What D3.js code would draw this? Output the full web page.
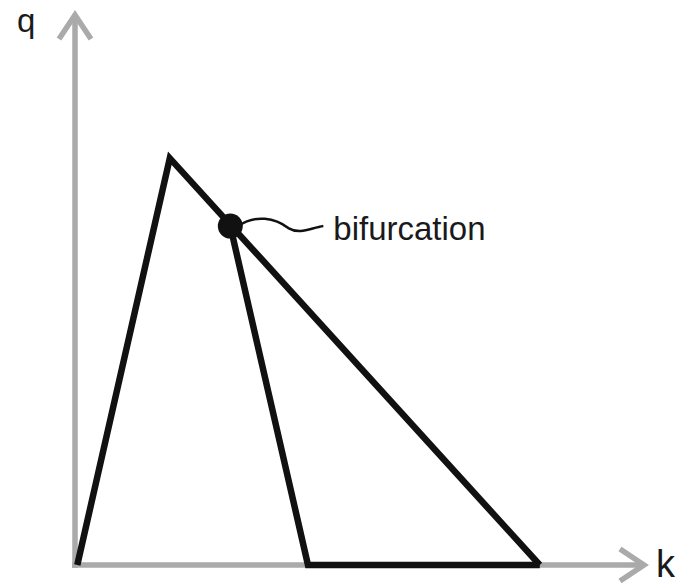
<!DOCTYPE html>
<html>
<head>
<meta charset="utf-8">
<script src="https://cdn.jsdelivr.net/npm/d3@7"></script>
<style>
  body { margin: 0; background: #fff; }
  text { font-family: "Liberation Sans", Arial, sans-serif; fill: #1a1a1a; }
</style>
</head>
<body>
<div id="chart"></div>
<script>
// outer envelope: rises from origin to the peak, then falls to zero
var envelope = [
  {k: 0.4, q: 0},
  {k: 16.6, q: 73.7},
  {k: 81.4, q: 0}
];

// branch that splits off at the bifurcation
var branch = [
  {k: 27.2, q: 61.4},
  {k: 40.8, q: 0},
  {k: 81.4, q: 0}
];

var bifurcation = {k: 27.2, q: 61.4, label: "bifurcation"};
var axisLabels = {x: "k", y: "q"};

var width = 685, height = 585;

var svg = d3.select("#chart")
  .append("svg")
    .attr("width", width)
    .attr("height", height);

// scales
var x = d3.scaleLinear().domain([0, 100]).range([75, 646]);
var y = d3.scaleLinear().domain([0, 100]).range([565, 13]);

// axes (grey with open arrow heads)
var grey = "#aaaaaa";
svg.append("line")
  .attr("x1", x(0)).attr("y1", y(0) + 3)
  .attr("x2", x(0)).attr("y2", y(100) + 2)
  .attr("stroke", grey).attr("stroke-width", 5.5);
svg.append("line")
  .attr("x1", x(0) - 3).attr("y1", y(0))
  .attr("x2", x(100) - 2).attr("y2", y(0))
  .attr("stroke", grey).attr("stroke-width", 5.5);

// arrow heads
svg.append("path")
  .attr("d", "M" + (x(0) - 16) + "," + (y(100) + 26) + " L" + x(0) + "," + (y(100) + 2) + " L" + (x(0) + 16) + "," + (y(100) + 26))
  .attr("fill", "none").attr("stroke", grey).attr("stroke-width", 5.5);
svg.append("path")
  .attr("d", "M" + (x(100) - 26) + "," + (y(0) - 16) + " L" + (x(100) - 2) + "," + y(0) + " L" + (x(100) - 26) + "," + (y(0) + 16))
  .attr("fill", "none").attr("stroke", grey).attr("stroke-width", 5.5);

svg.append("text")
  .attr("x", 17).attr("y", 32)
  .style("font-size", "33px")
  .text(axisLabels.y);
svg.append("text")
  .attr("x", 656).attr("y", 577)
  .style("font-size", "38px")
  .text(axisLabels.x);

// black lines
var line = d3.line()
  .x(function(d) { return x(d.k); })
  .y(function(d) { return y(d.q); });

svg.append("path")
  .datum(envelope)
  .attr("d", line)
  .attr("fill", "none")
  .attr("stroke", "#111")
  .attr("stroke-width", 6.5)
  .attr("stroke-linejoin", "miter");

svg.append("path")
  .datum(branch)
  .attr("d", line)
  .attr("fill", "none")
  .attr("stroke", "#111")
  .attr("stroke-width", 6.5)
  .attr("stroke-linejoin", "miter");

// bifurcation point and its label
var bx = x(bifurcation.k), by = y(bifurcation.q);

var p = d3.path();
p.moveTo(bx + 8, by);
p.bezierCurveTo(bx + 25, by - 12, bx + 45, by - 8, bx + 58, by + 2);
p.bezierCurveTo(bx + 70, by + 9, bx + 80, by + 2, bx + 93, by);
svg.append("path")
  .attr("d", p.toString())
  .attr("fill", "none")
  .attr("stroke", "#111")
  .attr("stroke-width", 2.5);

svg.append("circle")
  .attr("cx", bx).attr("cy", by)
  .attr("r", 12.5)
  .attr("fill", "#111");

svg.append("text")
  .attr("x", bx + 103).attr("y", by + 14)
  .style("font-size", "33px")
  .text(bifurcation.label);
</script>
</body>
</html>
